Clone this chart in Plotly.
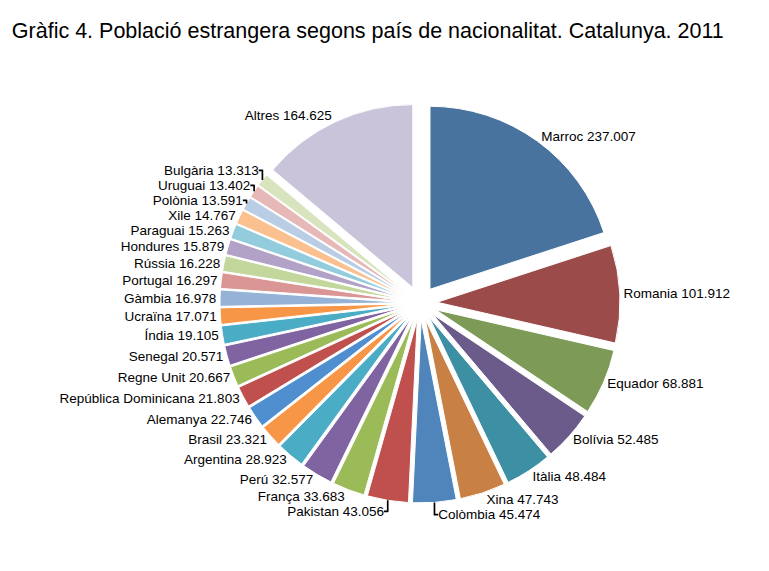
import plotly.graph_objects as go

# Població estrangera per nacionalitat, Catalunya 2011
countries = ["Marroc", "Romania", "Equador", "Bolívia", "Itàlia", "Xina", "Colòmbia",
             "Pakistan", "França", "Perú", "Argentina", "Brasil", "Alemanya",
             "República Dominicana", "Regne Unit", "Senegal", "Índia", "Ucraïna",
             "Gàmbia", "Portugal", "Rússia", "Hondures", "Paraguai", "Xile",
             "Polònia", "Uruguai", "Bulgària", "Altres"]
population = [237007, 101912, 68881, 52485, 48484, 47743, 45474,
              43056, 33683, 32577, 28923, 23321, 22746,
              21803, 20667, 20571, 19105, 17071,
              16978, 16297, 16228, 15879, 15263, 14767,
              13591, 13402, 13313, 164625]

colors = ["#47739e", "#9b4c4a", "#7e9a57", "#6a5b8b", "#3d8fa3", "#c88045", "#4f85ba",
          "#c0504d", "#9bbb59", "#8064a2", "#4bacc6", "#f79646", "#4f8fd0",
          "#c0504d", "#9bbb59", "#8064a2", "#4bacc6", "#f79646",
          "#95b3d7", "#d99694", "#c3d69b", "#b3a2c7", "#93cddd", "#fac090",
          "#b9cde5", "#e6b9b8", "#d7e4bd", "#c9c4d9"]

fig = go.Figure(go.Pie(
    labels=countries,
    values=population,
    sort=False,
    direction="clockwise",
    rotation=0,
    marker=dict(colors=colors, line=dict(color="white", width=1)),
    pull=0.093,
    textposition="outside",
    texttemplate="%{label} %{value:,}",
    textfont=dict(family="Liberation Sans, Arial, sans-serif", size=13.5, color="black"),
    hoverinfo="label+value",
    showlegend=False,
    domain=dict(x=[0.2757, 0.7958], y=[0.1331, 0.8336]),
))

fig.update_layout(
    width=769, height=571,
    margin=dict(l=0, r=0, t=0, b=0),
    separators=",.",
    paper_bgcolor="white",
    title=dict(text="Gràfic 4. Població estrangera segons país de nacionalitat. Catalunya. 2011",
               x=0.005, xanchor="left", y=0.9615, yanchor="middle",
               font=dict(family="Liberation Sans, Arial, sans-serif", size=21.5, color="black")),
)

fig.write_html("out.html")
